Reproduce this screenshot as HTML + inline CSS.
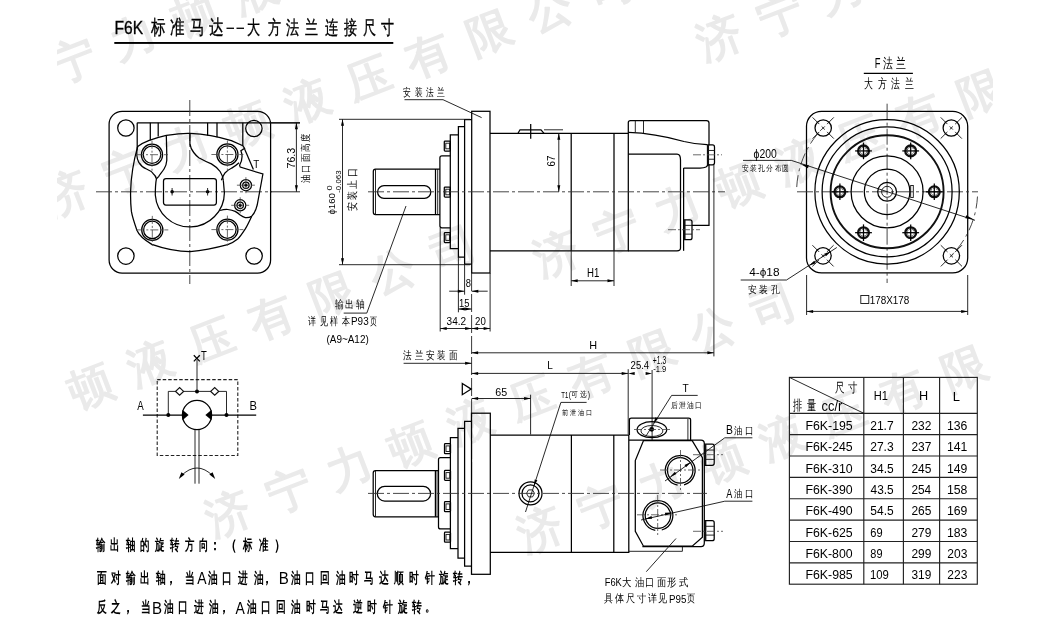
<!DOCTYPE html>
<html><head><meta charset="utf-8"><style>
html,body{margin:0;padding:0;background:#fff;}
svg{display:block;will-change:transform;}
text{font-family:"Liberation Sans",sans-serif;fill:#000;}
.wm{fill:#eaeaea;stroke:#eaeaea;stroke-width:1.5;stroke-linejoin:round;font-weight:normal;}
.bt{font-weight:bold;}
.bl{font-weight:normal;}
.ti{stroke:#000;stroke-width:0.35;}
.m{fill:none;stroke:#000;stroke-width:1.25;}
.k{fill:none;stroke:#111;stroke-width:1.9;}
.k2{fill:none;stroke:#111;stroke-width:2.3;}
.g{fill:none;stroke:#555;stroke-width:1;stroke-dasharray:2 1;}
.t{fill:none;stroke:#111;stroke-width:0.9;}
.tt{fill:none;stroke:#111;stroke-width:1.4;}
.tb{fill:none;stroke:#222;stroke-width:1.15;}
.c{fill:none;stroke:#333;stroke-width:0.9;stroke-dasharray:16 3 3 3;}
.c2{fill:none;stroke:#444;stroke-width:0.8;stroke-dasharray:8 2 2 2;}
.dl{fill:none;stroke:#222;stroke-width:0.9;stroke-dasharray:18 3;}
.da{fill:none;stroke:#333;stroke-width:0.9;stroke-dasharray:12 4 3 4;}
.ds{fill:none;stroke:#222;stroke-width:1.1;stroke-dasharray:3.5 2;}
.f{fill:#000;stroke:none;}
.wf{fill:#fff;stroke:#111;stroke-width:1.2;}
</style></head>
<body><svg width="1051" height="637" viewBox="0 0 1051 637">
<rect width="1051" height="637" fill="#fff"/>
<clipPath id="wmc"><rect x="57" y="0" width="936" height="637"/></clipPath><g clip-path="url(#wmc)">
<text transform="translate(12.0,83.0) rotate(-21)" x="-22.1" y="15.7" font-size="45" class="wm">济</text>
<text transform="translate(72.5,60.0) rotate(-21)" x="-22.1" y="15.7" font-size="45" class="wm">宁</text>
<text transform="translate(133.0,37.0) rotate(-21)" x="-22.1" y="15.7" font-size="45" class="wm">力</text>
<text transform="translate(193.5,14.0) rotate(-21)" x="-22.1" y="15.7" font-size="45" class="wm">顿</text>
<text transform="translate(254.0,-9.0) rotate(-21)" x="-22.1" y="15.7" font-size="45" class="wm">液</text>
<text transform="translate(719.0,37.0) rotate(-21)" x="-22.1" y="15.7" font-size="45" class="wm">济</text>
<text transform="translate(779.5,14.0) rotate(-21)" x="-22.1" y="15.7" font-size="45" class="wm">宁</text>
<text transform="translate(840.0,-9.0) rotate(-21)" x="-22.1" y="15.7" font-size="45" class="wm">力</text>
<text transform="translate(65.0,193.0) rotate(-21)" x="-22.1" y="15.7" font-size="45" class="wm">济</text>
<text transform="translate(125.5,170.0) rotate(-21)" x="-22.1" y="15.7" font-size="45" class="wm">宁</text>
<text transform="translate(186.0,147.0) rotate(-21)" x="-22.1" y="15.7" font-size="45" class="wm">力</text>
<text transform="translate(246.5,124.0) rotate(-21)" x="-22.1" y="15.7" font-size="45" class="wm">顿</text>
<text transform="translate(307.0,101.0) rotate(-21)" x="-22.1" y="15.7" font-size="45" class="wm">液</text>
<text transform="translate(367.5,78.0) rotate(-21)" x="-22.1" y="15.7" font-size="45" class="wm">压</text>
<text transform="translate(428.0,55.0) rotate(-21)" x="-22.1" y="15.7" font-size="45" class="wm">有</text>
<text transform="translate(488.5,32.0) rotate(-21)" x="-22.1" y="15.7" font-size="45" class="wm">限</text>
<text transform="translate(549.0,9.0) rotate(-21)" x="-22.1" y="15.7" font-size="45" class="wm">公</text>
<text transform="translate(609.5,-14.0) rotate(-21)" x="-22.1" y="15.7" font-size="45" class="wm">司</text>
<text transform="translate(-92.0,455.0) rotate(-21)" x="-22.1" y="15.7" font-size="45" class="wm">济</text>
<text transform="translate(-31.5,432.0) rotate(-21)" x="-22.1" y="15.7" font-size="45" class="wm">宁</text>
<text transform="translate(29.0,409.0) rotate(-21)" x="-22.1" y="15.7" font-size="45" class="wm">力</text>
<text transform="translate(89.5,386.0) rotate(-21)" x="-22.1" y="15.7" font-size="45" class="wm">顿</text>
<text transform="translate(150.0,363.0) rotate(-21)" x="-22.1" y="15.7" font-size="45" class="wm">液</text>
<text transform="translate(210.5,340.0) rotate(-21)" x="-22.1" y="15.7" font-size="45" class="wm">压</text>
<text transform="translate(271.0,317.0) rotate(-21)" x="-22.1" y="15.7" font-size="45" class="wm">有</text>
<text transform="translate(331.5,294.0) rotate(-21)" x="-22.1" y="15.7" font-size="45" class="wm">限</text>
<text transform="translate(392.0,271.0) rotate(-21)" x="-22.1" y="15.7" font-size="45" class="wm">公</text>
<text transform="translate(452.5,248.0) rotate(-21)" x="-22.1" y="15.7" font-size="45" class="wm">司</text>
<text transform="translate(556.0,253.0) rotate(-21)" x="-22.1" y="15.7" font-size="45" class="wm">济</text>
<text transform="translate(616.5,230.0) rotate(-21)" x="-22.1" y="15.7" font-size="45" class="wm">宁</text>
<text transform="translate(677.0,207.0) rotate(-21)" x="-22.1" y="15.7" font-size="45" class="wm">力</text>
<text transform="translate(737.5,184.0) rotate(-21)" x="-22.1" y="15.7" font-size="45" class="wm">顿</text>
<text transform="translate(798.0,161.0) rotate(-21)" x="-22.1" y="15.7" font-size="45" class="wm">液</text>
<text transform="translate(858.5,138.0) rotate(-21)" x="-22.1" y="15.7" font-size="45" class="wm">压</text>
<text transform="translate(919.0,115.0) rotate(-21)" x="-22.1" y="15.7" font-size="45" class="wm">有</text>
<text transform="translate(979.5,92.0) rotate(-21)" x="-22.1" y="15.7" font-size="45" class="wm">限</text>
<text transform="translate(228.0,513.0) rotate(-21)" x="-22.1" y="15.7" font-size="45" class="wm">济</text>
<text transform="translate(288.5,490.0) rotate(-21)" x="-22.1" y="15.7" font-size="45" class="wm">宁</text>
<text transform="translate(349.0,467.0) rotate(-21)" x="-22.1" y="15.7" font-size="45" class="wm">力</text>
<text transform="translate(409.5,444.0) rotate(-21)" x="-22.1" y="15.7" font-size="45" class="wm">顿</text>
<text transform="translate(470.0,421.0) rotate(-21)" x="-22.1" y="15.7" font-size="45" class="wm">液</text>
<text transform="translate(530.5,398.0) rotate(-21)" x="-22.1" y="15.7" font-size="45" class="wm">压</text>
<text transform="translate(591.0,375.0) rotate(-21)" x="-22.1" y="15.7" font-size="45" class="wm">有</text>
<text transform="translate(651.5,352.0) rotate(-21)" x="-22.1" y="15.7" font-size="45" class="wm">限</text>
<text transform="translate(712.0,329.0) rotate(-21)" x="-22.1" y="15.7" font-size="45" class="wm">公</text>
<text transform="translate(772.5,306.0) rotate(-21)" x="-22.1" y="15.7" font-size="45" class="wm">司</text>
<text transform="translate(540.0,529.0) rotate(-21)" x="-22.1" y="15.7" font-size="45" class="wm">济</text>
<text transform="translate(600.5,506.0) rotate(-21)" x="-22.1" y="15.7" font-size="45" class="wm">宁</text>
<text transform="translate(661.0,483.0) rotate(-21)" x="-22.1" y="15.7" font-size="45" class="wm">力</text>
<text transform="translate(721.5,460.0) rotate(-21)" x="-22.1" y="15.7" font-size="45" class="wm">顿</text>
<text transform="translate(782.0,437.0) rotate(-21)" x="-22.1" y="15.7" font-size="45" class="wm">液</text>
<text transform="translate(842.5,414.0) rotate(-21)" x="-22.1" y="15.7" font-size="45" class="wm">压</text>
<text transform="translate(903.0,391.0) rotate(-21)" x="-22.1" y="15.7" font-size="45" class="wm">有</text>
<text transform="translate(963.5,368.0) rotate(-21)" x="-22.1" y="15.7" font-size="45" class="wm">限</text>
<text transform="translate(1024.0,345.0) rotate(-21)" x="-22.1" y="15.7" font-size="45" class="wm">公</text>
</g>
<text transform="translate(114.45,33.50) scale(0.816,1)" font-size="19.13" class="ti">F6K</text>
<text transform="translate(150.70,34.03) scale(0.726,1)" font-size="19.79" class="ti">标</text>
<text transform="translate(170.03,34.03) scale(0.726,1)" font-size="19.79" class="ti">准</text>
<text transform="translate(190.03,34.03) scale(0.726,1)" font-size="19.79" class="ti">马</text>
<text transform="translate(208.91,34.03) scale(0.726,1)" font-size="19.79" class="ti">达</text>
<line x1="226.50" y1="28.30" x2="234.00" y2="28.30" class="tt"/>
<line x1="236.50" y1="28.30" x2="244.00" y2="28.30" class="tt"/>
<text transform="translate(247.07,34.28) scale(0.687,1)" font-size="19.36" class="ti">大</text>
<text transform="translate(267.80,34.28) scale(0.687,1)" font-size="19.36" class="ti">方</text>
<text transform="translate(286.13,34.28) scale(0.687,1)" font-size="19.36" class="ti">法</text>
<text transform="translate(305.23,34.28) scale(0.687,1)" font-size="19.36" class="ti">兰</text>
<text transform="translate(324.80,34.28) scale(0.687,1)" font-size="19.36" class="ti">连</text>
<text transform="translate(344.17,34.28) scale(0.687,1)" font-size="19.36" class="ti">接</text>
<text transform="translate(362.77,34.28) scale(0.687,1)" font-size="19.36" class="ti">尺</text>
<text transform="translate(381.33,34.28) scale(0.687,1)" font-size="19.36" class="ti">寸</text>
<rect x="114.30" y="42.00" width="279.00" height="1.90" rx="0" class="f"/>
<rect x="109.10" y="111.30" width="161.50" height="161.80" rx="13" class="m"/>
<circle cx="125.90" cy="128.00" r="8.20" class="m"/>
<circle cx="253.90" cy="128.50" r="8.20" class="m"/>
<circle cx="125.90" cy="256.10" r="8.20" class="m"/>
<circle cx="254.10" cy="256.00" r="8.20" class="m"/>
<line x1="189.80" y1="100.00" x2="189.80" y2="284.00" class="c"/>
<line x1="96.00" y1="191.80" x2="272.00" y2="191.80" class="c"/>
<line x1="270.00" y1="191.80" x2="300.00" y2="191.80" class="t"/>
<line x1="137.20" y1="122.80" x2="300.00" y2="122.80" class="m"/>
<line x1="137.20" y1="122.80" x2="137.20" y2="148.60" class="m"/>
<line x1="150.30" y1="122.80" x2="150.30" y2="140.30" class="m"/>
<line x1="158.20" y1="122.80" x2="158.20" y2="136.50" class="m"/>
<line x1="207.60" y1="122.80" x2="207.60" y2="135.60" class="m"/>
<line x1="217.00" y1="122.80" x2="217.00" y2="137.20" class="m"/>
<line x1="242.80" y1="122.80" x2="242.80" y2="145.70" class="m"/>
<path d="M137.7,146.4 C145,141 155,138 166.3,135.4 C175,134 182,133 190,133.3 C205,133.8 220,137 231.4,140.7 L242.8,145.7 L244.6,148.4 L240.9,150.7 C243,156 242,161 239.6,165.2 L240.2,167.1 L262.9,174 L257.2,205 C256,210 254,214 251.6,216.4 C249,222 247,226 245.3,228.9 C242,234 240,237 237.7,239 C234,242 231,243.5 227.7,244.6 C215,248 202,250.5 190,251.6 C176,251.6 162,248 151.8,244.4 C143,239 138,233 136.9,230.2 C134,222 131.5,212 131.4,211.4 C130.5,203 130.5,197 130.6,191.8 C131,176 133,163 137.7,146.4 Z" class="m"/>
<line x1="244.60" y1="148.90" x2="253.40" y2="169.60" class="m"/>
<path d="M137.7,146.4 C136,153 136.5,158 138.8,162.4 C141,166 144,168 146.5,169 C150,170.5 152,172 153,173.4 C155,175 156,177 156.4,178.8 C155.6,183 155.3,188 155.3,195" class="m"/>
<path d="M166.3,135.4 C166.6,145 166.8,152 166.8,160.2 C166.5,164 165.5,167 164,169 C162,172 160,174.5 158.6,176.6 L156.4,178.8" class="m"/>
<path d="M190,133.3 C190,138 189.9,141 189.9,143.7 C190.5,148 192,150.5 193.7,152.5 C196,155.5 197.5,156.8 198.8,157.7 C203,160 207,162 211.4,163.9 C215,166 218,168.5 220.1,171.5 C222,174.5 223,177 223.3,180.3" class="m"/>
<path d="M239,162.7 C236,165.5 233.5,167 231.4,168.3 C229,169.5 227,171 225.2,172.7 C223.5,175 222.3,177.5 221.4,180.3" class="m"/>
<path d="M155.3,195 A34.6,34.6 0 0 0 224.4,192.7 L223.3,180.3" class="m"/>
<path d="M220.1,210.5 C223,209.6 225.5,209.4 227.7,209.5 C230.5,209.8 233,210.4 235.2,211.4 C237,212.5 238.8,213.8 240.2,215.1 C242,216.4 243.5,217.2 245.3,217.6 C247.5,217.8 249.8,217.4 251.6,216.4" class="m"/>
<circle cx="152.00" cy="154.70" r="10.60" class="m"/>
<circle cx="152.00" cy="154.70" r="8.70" class="m"/>
<line x1="136.00" y1="154.70" x2="168.00" y2="154.70" class="c2"/>
<line x1="152.00" y1="140.70" x2="152.00" y2="170.70" class="c2"/>
<circle cx="227.40" cy="154.50" r="10.60" class="m"/>
<circle cx="227.40" cy="154.50" r="8.70" class="m"/>
<line x1="211.40" y1="154.50" x2="243.40" y2="154.50" class="c2"/>
<line x1="227.40" y1="140.50" x2="227.40" y2="170.50" class="c2"/>
<circle cx="152.30" cy="229.90" r="10.60" class="m"/>
<circle cx="152.30" cy="229.90" r="8.70" class="m"/>
<line x1="136.30" y1="229.90" x2="168.30" y2="229.90" class="c2"/>
<line x1="152.30" y1="215.90" x2="152.30" y2="245.90" class="c2"/>
<circle cx="227.40" cy="229.60" r="10.60" class="m"/>
<circle cx="227.40" cy="229.60" r="8.70" class="m"/>
<line x1="211.40" y1="229.60" x2="243.40" y2="229.60" class="c2"/>
<line x1="227.40" y1="215.60" x2="227.40" y2="245.60" class="c2"/>
<rect x="163.50" y="178.60" width="52.90" height="26.50" rx="2.5" class="m"/>
<circle cx="172.10" cy="191.80" r="1.80" class="f"/>
<line x1="172.10" y1="188.00" x2="172.10" y2="195.50" class="t"/>
<circle cx="207.60" cy="191.80" r="1.80" class="f"/>
<line x1="207.60" y1="188.00" x2="207.60" y2="195.50" class="t"/>
<circle cx="245.90" cy="185.20" r="5.60" class="m"/>
<circle cx="245.90" cy="185.20" r="3.20" class="m"/>
<circle cx="245.90" cy="185.20" r="1.60" class="f"/>
<line x1="236.90" y1="185.20" x2="254.90" y2="185.20" class="c2"/>
<line x1="245.90" y1="177.20" x2="245.90" y2="193.20" class="c2"/>
<circle cx="240.20" cy="205.30" r="5.60" class="m"/>
<circle cx="240.20" cy="205.30" r="3.20" class="m"/>
<circle cx="240.20" cy="205.30" r="1.60" class="f"/>
<line x1="231.20" y1="205.30" x2="249.20" y2="205.30" class="c2"/>
<line x1="240.20" y1="197.30" x2="240.20" y2="213.30" class="c2"/>
<text transform="translate(253.20,168.30) scale(0.904,1)" font-size="10.87">T</text>
<line x1="270.00" y1="122.80" x2="300.00" y2="122.80" class="t"/>
<line x1="296.40" y1="122.80" x2="296.40" y2="191.80" class="t"/>
<path d="M296.40,122.80 L297.90,129.30 L294.90,129.30 Z" class="f"/>
<path d="M296.40,191.80 L294.90,185.30 L297.90,185.30 Z" class="f"/>
<text transform="translate(295.10,168.54) rotate(-90) scale(0.972,1)" font-size="11.01">76.3</text>
<text transform="translate(308.90,183.10) rotate(-90) scale(0.851,1)" font-size="10.00">油</text>
<text transform="translate(308.90,172.66) rotate(-90) scale(0.851,1)" font-size="10.00">口</text>
<text transform="translate(308.90,162.47) rotate(-90) scale(0.851,1)" font-size="10.00">面</text>
<text transform="translate(308.90,152.11) rotate(-90) scale(0.851,1)" font-size="10.00">高</text>
<text transform="translate(308.90,141.67) rotate(-90) scale(0.851,1)" font-size="10.00">度</text>
<rect x="471.70" y="111.30" width="18.30" height="161.70" rx="0" class="m"/>
<path d="M471.7,119.5 L464.6,119.5 L464.6,264.1 L471.7,264.1" class="m"/>
<path d="M464.6,126.5 L458.4,126.5 L458.4,257.1 L464.6,257.1" class="m"/>
<path d="M458.4,134.9 L450.3,134.9 L450.3,248.7 L458.4,248.7" class="m"/>
<path d="M450.3,155.8 L441.9,155.8 Q439.9,155.8 439.9,157.8 L439.9,225.8 Q439.9,227.8 441.9,227.8 L450.3,227.8" class="m"/>
<path d="M439.9,169 L375.5,169 Q373.3,169 373.3,171.5 L373.3,212 Q373.3,214.6 375.5,214.6 L439.9,214.6" class="m"/>
<line x1="435.50" y1="169.00" x2="435.50" y2="214.60" class="m"/>
<line x1="437.70" y1="169.00" x2="437.70" y2="214.60" class="t"/>
<line x1="375.50" y1="169.00" x2="375.50" y2="214.60" class="t"/>
<rect x="377.60" y="185.60" width="53.20" height="12.80" rx="6.4" class="m"/>
<rect x="444.30" y="141.00" width="6.00" height="10.00" rx="0.8" class="m"/>
<rect x="445.80" y="143.20" width="3.80" height="5.60" rx="0" class="t"/>
<rect x="444.30" y="187.00" width="6.00" height="10.00" rx="0.8" class="m"/>
<rect x="445.80" y="189.20" width="3.80" height="5.60" rx="0" class="t"/>
<rect x="444.30" y="232.60" width="6.00" height="10.00" rx="0.8" class="m"/>
<rect x="445.80" y="234.80" width="3.80" height="5.60" rx="0" class="t"/>
<path d="M490,133.3 L628.3,133.3 L628.3,250.8 L490,250.8" class="m"/>
<line x1="571.20" y1="133.30" x2="571.20" y2="250.80" class="m"/>
<line x1="614.00" y1="133.30" x2="614.00" y2="250.80" class="m"/>
<path d="M628.3,154.2 L677,154.2 Q680.5,154.2 680.5,160 L680.5,248 Q680.5,250.8 677,250.8 L628.3,250.8" class="m"/>
<line x1="683.60" y1="168.00" x2="683.60" y2="250.80" class="m"/>
<path d="M628.3,133.3 L628.3,122.5 Q628.3,120.6 630.5,120.6 L706.5,120.6 Q709,120.6 709,123 L709,145.3" class="m"/>
<path d="M628.3,132.4 C650,133 668,137 684,141.5 C694,144 701,144.5 707,144.5" class="m"/>
<line x1="635.30" y1="120.60" x2="635.30" y2="132.50" class="t"/>
<line x1="643.50" y1="120.60" x2="643.50" y2="133.50" class="t"/>
<path d="M709,164.2 L706,167 C704,168 702,168 700,168 L683.6,168" class="m"/>
<path d="M707.50,144.90 L712.50,144.90 Q714.50,144.90 714.50,146.90 L714.50,162.80 Q714.50,164.80 712.50,164.80 L707.50,164.80 Z" class="m"/>
<line x1="708.10" y1="144.90" x2="708.10" y2="164.80" class="k"/>
<line x1="707.50" y1="150.47" x2="714.50" y2="150.47" class="t"/>
<line x1="707.50" y1="159.23" x2="714.50" y2="159.23" class="t"/>
<path d="M709,164.2 L709,225.4 L691.8,225.4" class="m"/>
<path d="M684.00,219.80 L690.00,219.80 Q692.00,219.80 692.00,221.80 L692.00,237.70 Q692.00,239.70 690.00,239.70 L684.00,239.70 Z" class="m"/>
<line x1="684.60" y1="219.80" x2="684.60" y2="239.70" class="k"/>
<line x1="684.00" y1="225.37" x2="692.00" y2="225.37" class="t"/>
<line x1="684.00" y1="234.13" x2="692.00" y2="234.13" class="t"/>
<line x1="693.00" y1="154.80" x2="722.00" y2="154.80" class="c2"/>
<line x1="668.00" y1="229.70" x2="700.00" y2="229.70" class="c2"/>
<path d="M518,133.3 L520,129.8 L541,129.8 L544,133.3" class="m"/>
<line x1="530.70" y1="124.00" x2="530.70" y2="138.80" class="m"/>
<line x1="544.00" y1="129.80" x2="563.00" y2="129.80" class="t"/>
<line x1="368.00" y1="191.80" x2="725.00" y2="191.80" class="c"/>
<line x1="558.80" y1="133.30" x2="558.80" y2="191.80" class="t"/>
<path d="M558.80,133.30 L560.30,139.80 L557.30,139.80 Z" class="f"/>
<path d="M558.80,191.80 L557.30,185.30 L560.30,185.30 Z" class="f"/>
<text transform="translate(554.60,166.39) rotate(-90) scale(0.840,1)" font-size="11.59">67</text>
<line x1="571.20" y1="250.80" x2="571.20" y2="286.00" class="t"/>
<line x1="614.00" y1="250.80" x2="614.00" y2="286.00" class="t"/>
<line x1="571.20" y1="280.80" x2="614.00" y2="280.80" class="t"/>
<path d="M571.20,280.80 L577.70,279.30 L577.70,282.30 Z" class="f"/>
<path d="M614.00,280.80 L607.50,282.30 L607.50,279.30 Z" class="f"/>
<text transform="translate(587.03,276.60) scale(0.801,1)" font-size="12.03">H1</text>
<line x1="339.00" y1="119.30" x2="470.00" y2="119.30" class="t"/>
<line x1="339.00" y1="264.70" x2="470.00" y2="264.70" class="t"/>
<line x1="342.50" y1="119.30" x2="342.50" y2="264.70" class="t"/>
<path d="M342.50,119.30 L344.00,125.80 L341.00,125.80 Z" class="f"/>
<path d="M342.50,264.70 L341.00,258.20 L344.00,258.20 Z" class="f"/>
<text transform="translate(334.60,214.59) rotate(-90) scale(1.010,1)" font-size="9.57">ϕ160</text>
<text transform="translate(331.50,190.38) rotate(-90) scale(1.294,1)" font-size="7.25">0</text>
<text transform="translate(341.20,192.82) rotate(-90) scale(1.159,1)" font-size="6.81">-0.063</text>
<text transform="translate(355.89,211.48) rotate(-90) scale(0.825,1)" font-size="10.96">安</text>
<text transform="translate(355.89,200.13) rotate(-90) scale(0.825,1)" font-size="10.96">装</text>
<text transform="translate(355.89,188.83) rotate(-90) scale(0.825,1)" font-size="10.96">止</text>
<text transform="translate(355.89,177.30) rotate(-90) scale(0.825,1)" font-size="10.96">口</text>
<text transform="translate(403.29,95.77) scale(0.702,1)" font-size="11.06">安</text>
<text transform="translate(414.77,95.77) scale(0.702,1)" font-size="11.06">装</text>
<text transform="translate(425.74,95.77) scale(0.702,1)" font-size="11.06">法</text>
<text transform="translate(436.74,95.77) scale(0.702,1)" font-size="11.06">兰</text>
<line x1="404.50" y1="99.70" x2="443.00" y2="99.70" class="t"/>
<line x1="443.00" y1="99.70" x2="481.60" y2="117.60" class="t"/>
<line x1="366.80" y1="313.10" x2="406.00" y2="206.00" class="t"/>
<line x1="343.70" y1="313.10" x2="366.80" y2="313.10" class="t"/>
<text transform="translate(335.01,308.39) scale(0.796,1)" font-size="10.96">输</text>
<text transform="translate(345.28,308.39) scale(0.796,1)" font-size="10.96">出</text>
<text transform="translate(356.41,308.39) scale(0.796,1)" font-size="10.96">轴</text>
<text transform="translate(308.12,325.29) scale(0.728,1)" font-size="10.96">详</text>
<text transform="translate(319.60,325.29) scale(0.728,1)" font-size="10.96">见</text>
<text transform="translate(329.92,325.29) scale(0.728,1)" font-size="10.96">样</text>
<text transform="translate(341.72,325.29) scale(0.728,1)" font-size="10.96">本</text>
<text transform="translate(351.01,325.20) scale(0.964,1)" font-size="10.29">P93</text>
<text transform="translate(369.86,325.29) scale(0.631,1)" font-size="10.96">页</text>
<text transform="translate(326.50,342.60) scale(0.858,1)" font-size="11.59">(A9~A12)</text>
<line x1="440.20" y1="227.80" x2="440.20" y2="331.50" class="t"/>
<line x1="458.40" y1="257.10" x2="458.40" y2="312.30" class="t"/>
<line x1="464.60" y1="264.10" x2="464.60" y2="294.70" class="t"/>
<line x1="471.60" y1="273.00" x2="471.60" y2="480.00" class="dl"/>
<line x1="490.10" y1="273.00" x2="490.10" y2="331.50" class="t"/>
<line x1="449.20" y1="291.20" x2="464.60" y2="291.20" class="t"/>
<path d="M464.30,291.20 L457.80,292.70 L457.80,289.70 Z" class="f"/>
<line x1="471.60" y1="291.20" x2="487.70" y2="291.20" class="t"/>
<path d="M471.80,291.20 L478.30,289.70 L478.30,292.70 Z" class="f"/>
<text transform="translate(465.63,286.50) scale(0.897,1)" font-size="10.43">8</text>
<line x1="458.40" y1="309.00" x2="471.60" y2="309.00" class="t"/>
<path d="M458.40,309.00 L464.90,307.50 L464.90,310.50 Z" class="f"/>
<path d="M471.60,309.00 L465.10,310.50 L465.10,307.50 Z" class="f"/>
<text transform="translate(458.95,306.80) scale(0.845,1)" font-size="11.16">15</text>
<line x1="440.20" y1="328.50" x2="471.60" y2="328.50" class="t"/>
<path d="M440.20,328.50 L446.70,327.00 L446.70,330.00 Z" class="f"/>
<path d="M471.60,328.50 L465.10,330.00 L465.10,327.00 Z" class="f"/>
<text transform="translate(446.60,324.90) scale(0.913,1)" font-size="11.01">34.2</text>
<line x1="471.60" y1="328.50" x2="490.10" y2="328.50" class="t"/>
<path d="M471.60,328.50 L478.10,327.00 L478.10,330.00 Z" class="f"/>
<path d="M490.10,328.50 L483.60,330.00 L483.60,327.00 Z" class="f"/>
<text transform="translate(475.12,324.90) scale(0.876,1)" font-size="11.01">20</text>
<line x1="713.90" y1="165.00" x2="713.90" y2="356.40" class="t"/>
<line x1="471.60" y1="352.80" x2="713.90" y2="352.80" class="t"/>
<path d="M471.60,352.80 L478.10,351.30 L478.10,354.30 Z" class="f"/>
<path d="M713.90,352.80 L707.40,354.30 L707.40,351.30 Z" class="f"/>
<text transform="translate(589.13,349.00) scale(0.989,1)" font-size="11.01">H</text>
<text transform="translate(403.43,358.90) scale(0.784,1)" font-size="10.85">法</text>
<text transform="translate(414.73,358.90) scale(0.784,1)" font-size="10.85">兰</text>
<text transform="translate(425.86,358.90) scale(0.784,1)" font-size="10.85">安</text>
<text transform="translate(437.24,358.90) scale(0.784,1)" font-size="10.85">装</text>
<text transform="translate(448.63,358.90) scale(0.784,1)" font-size="10.85">面</text>
<line x1="403.60" y1="363.30" x2="471.60" y2="363.30" class="t"/>
<path d="M471.60,363.30 L465.10,364.80 L465.10,361.80 Z" class="f"/>
<line x1="471.60" y1="373.40" x2="628.20" y2="373.40" class="t"/>
<path d="M471.60,373.40 L478.10,371.90 L478.10,374.90 Z" class="f"/>
<path d="M628.20,373.40 L621.70,374.90 L621.70,371.90 Z" class="f"/>
<text transform="translate(547.30,369.40) scale(0.873,1)" font-size="11.45">L</text>
<line x1="628.20" y1="369.20" x2="628.20" y2="434.50" class="t"/>
<line x1="652.10" y1="370.00" x2="652.10" y2="440.00" class="t"/>
<path d="M652.10,373.40 L645.60,374.90 L645.60,371.90 Z" class="f"/>
<path d="M628.20,373.40 L634.70,371.90 L634.70,374.90 Z" class="f"/>
<text transform="translate(630.62,369.20) scale(0.811,1)" font-size="11.74">25.4</text>
<text transform="translate(652.86,364.00) scale(0.676,1)" font-size="10.00">+1.3</text>
<text transform="translate(653.20,372.10) scale(0.917,1)" font-size="8.26">-1.9</text>
<path d="M462.3,383.5 L471.2,389.1 L462.3,394.7 Z" class="m"/>
<line x1="530.60" y1="394.70" x2="530.60" y2="434.50" class="t"/>
<line x1="471.60" y1="398.50" x2="530.60" y2="398.50" class="t"/>
<path d="M471.60,398.50 L478.10,397.00 L478.10,400.00 Z" class="f"/>
<path d="M530.60,398.50 L524.10,400.00 L524.10,397.00 Z" class="f"/>
<text transform="translate(495.36,396.20) scale(0.974,1)" font-size="11.01">65</text>
<rect x="471.50" y="413.20" width="18.80" height="161.10" rx="0" class="m"/>
<path d="M471.5,421.3 L464.6,421.3 L464.6,566 L471.5,566" class="m"/>
<path d="M464.6,428.3 L458,428.3 L458,558.1 L464.6,558.1" class="m"/>
<path d="M458,437.7 L450.4,437.7 L450.4,548.7 L458,548.7" class="m"/>
<path d="M450.4,457.5 L440.5,457.5 Q438.5,457.5 438.5,459.5 L438.5,526.9 Q438.5,528.9 440.5,528.9 L450.4,528.9" class="m"/>
<path d="M438.5,470.6 L375.5,470.6 Q373.2,470.6 373.2,473 L373.2,514.3 Q373.2,516.8 375.5,516.8 L438.5,516.8" class="m"/>
<line x1="435.40" y1="470.60" x2="435.40" y2="516.80" class="m"/>
<line x1="437.00" y1="470.60" x2="437.00" y2="516.80" class="t"/>
<line x1="375.50" y1="470.60" x2="375.50" y2="516.80" class="t"/>
<rect x="377.30" y="486.30" width="53.30" height="14.80" rx="7.4" class="m"/>
<rect x="444.50" y="443.70" width="6.00" height="10.00" rx="0.8" class="m"/>
<rect x="446.00" y="445.90" width="3.80" height="5.60" rx="0" class="t"/>
<rect x="444.50" y="470.40" width="6.00" height="10.00" rx="0.8" class="m"/>
<rect x="446.00" y="472.60" width="3.80" height="5.60" rx="0" class="t"/>
<rect x="444.50" y="501.70" width="6.00" height="10.00" rx="0.8" class="m"/>
<rect x="446.00" y="503.90" width="3.80" height="5.60" rx="0" class="t"/>
<rect x="444.50" y="532.20" width="6.00" height="10.00" rx="0.8" class="m"/>
<rect x="446.00" y="534.40" width="3.80" height="5.60" rx="0" class="t"/>
<path d="M490.3,435 L628.8,435 L628.8,552.3 L490.3,552.3" class="m"/>
<line x1="571.40" y1="435.00" x2="571.40" y2="552.30" class="m"/>
<line x1="613.80" y1="435.00" x2="613.80" y2="552.30" class="m"/>
<circle cx="530.50" cy="493.40" r="11.50" class="m"/>
<circle cx="530.50" cy="493.40" r="8.50" class="m"/>
<path d="M526.5,493.4 L528.5,489.9 L532.5,489.9 L534.5,493.4 L532.5,496.9 L528.5,496.9 Z" class="t"/>
<path d="M629.4,435 L629.4,420 Q629.4,418.2 631.4,418.2 L688.6,418.2 Q690.6,418.2 690.6,420 L690.6,440.1" class="m"/>
<ellipse cx="651.9" cy="429.7" rx="14.8" ry="8" class="m"/>
<ellipse cx="651.9" cy="431" rx="11" ry="5.5" class="t"/>
<circle cx="651.70" cy="429.30" r="2.40" class="f"/>
<line x1="634.00" y1="429.50" x2="672.00" y2="429.50" class="c2"/>
<line x1="687.90" y1="419.00" x2="687.90" y2="440.00" class="t"/>
<path d="M629,440.1 L701,440.1 Q704.3,440.1 704.3,443.5 L704.3,543 Q704.3,546.6 701,546.6 L642.4,546.6" class="m"/>
<path d="M643.5,440.6 L692.2,440.6 L702.4,457.7 L702.4,537.1 L692.2,546.2 L643.5,546.2 L635.3,531.3 L635.3,460.6 Z" class="m"/>
<path d="M629,551.3 L682.4,551.3 L682.4,547" class="t"/>
<circle cx="680.20" cy="470.40" r="12.70" class="m"/>
<path d="M677.61,485.07 A14.9,14.9 0 1 1 684.06,484.79" class="m"/>
<circle cx="657.90" cy="515.60" r="12.70" class="m"/>
<path d="M655.31,530.27 A14.9,14.9 0 1 1 661.76,529.99" class="m"/>
<line x1="660.00" y1="470.00" x2="700.00" y2="470.00" class="c2"/>
<line x1="680.50" y1="450.00" x2="680.50" y2="490.00" class="c2"/>
<line x1="637.00" y1="514.80" x2="678.00" y2="514.80" class="c2"/>
<line x1="657.70" y1="495.00" x2="657.70" y2="535.00" class="c2"/>
<path d="M704.80,444.10 L712.20,444.10 Q714.20,444.10 714.20,446.10 L714.20,463.30 Q714.20,465.30 712.20,465.30 L704.80,465.30 Z" class="m"/>
<line x1="705.40" y1="444.10" x2="705.40" y2="465.30" class="k"/>
<line x1="704.80" y1="450.04" x2="714.20" y2="450.04" class="t"/>
<line x1="704.80" y1="459.36" x2="714.20" y2="459.36" class="t"/>
<path d="M704.80,520.70 L712.20,520.70 Q714.20,520.70 714.20,522.70 L714.20,538.70 Q714.20,540.70 712.20,540.70 L704.80,540.70 Z" class="m"/>
<line x1="705.40" y1="520.70" x2="705.40" y2="540.70" class="k"/>
<line x1="704.80" y1="526.30" x2="714.20" y2="526.30" class="t"/>
<line x1="704.80" y1="535.10" x2="714.20" y2="535.10" class="t"/>
<line x1="693.00" y1="454.70" x2="723.00" y2="454.70" class="c2"/>
<line x1="693.00" y1="531.30" x2="723.00" y2="531.30" class="c2"/>
<line x1="368.00" y1="493.40" x2="707.00" y2="493.40" class="c"/>
<text transform="translate(561.28,397.60) scale(0.617,1)" font-size="9.71">T1</text>
<text transform="translate(568.79,397.60) scale(0.800,1)" font-size="8.50">(</text>
<text transform="translate(571.36,397.22) scale(0.857,1)" font-size="8.19">可</text>
<text transform="translate(579.86,397.22) scale(0.857,1)" font-size="8.19">选</text>
<text transform="translate(587.73,397.60) scale(0.800,1)" font-size="8.50">)</text>
<line x1="560.90" y1="402.40" x2="586.60" y2="402.40" class="t"/>
<line x1="560.90" y1="402.40" x2="525.50" y2="512.00" class="t"/>
<path d="M533.80,486.50 L534.71,479.42 L537.36,480.31 Z" class="f"/>
<text transform="translate(561.78,414.67) scale(0.892,1)" font-size="6.91">前</text>
<text transform="translate(570.08,414.67) scale(0.892,1)" font-size="6.91">泄</text>
<text transform="translate(578.28,414.67) scale(0.892,1)" font-size="6.91">油</text>
<text transform="translate(585.58,414.67) scale(0.892,1)" font-size="6.91">口</text>
<text transform="translate(682.50,392.40) scale(0.949,1)" font-size="10.72">T</text>
<line x1="671.60" y1="395.40" x2="697.70" y2="395.40" class="t"/>
<line x1="671.60" y1="395.40" x2="646.00" y2="436.00" class="t"/>
<path d="M653.00,424.00 L655.61,417.35 L657.96,418.87 Z" class="f"/>
<text transform="translate(671.11,407.59) scale(0.845,1)" font-size="7.55">后</text>
<text transform="translate(679.17,407.59) scale(0.845,1)" font-size="7.55">泄</text>
<text transform="translate(687.17,407.59) scale(0.845,1)" font-size="7.55">油</text>
<text transform="translate(694.66,407.59) scale(0.845,1)" font-size="7.55">口</text>
<text transform="translate(725.97,434.40) scale(0.873,1)" font-size="11.88">B</text>
<text transform="translate(733.62,434.06) scale(0.856,1)" font-size="10.32">油</text>
<text transform="translate(744.82,434.06) scale(0.856,1)" font-size="10.32">口</text>
<line x1="724.80" y1="437.80" x2="752.40" y2="437.80" class="t"/>
<line x1="724.80" y1="437.80" x2="665.00" y2="481.00" class="t"/>
<path d="M670.00,477.00 L674.91,471.81 L676.52,474.10 Z" class="f"/>
<path d="M691.00,462.00 L686.09,467.19 L684.48,464.90 Z" class="f"/>
<text transform="translate(726.30,497.70) scale(0.765,1)" font-size="11.88">A</text>
<text transform="translate(733.62,497.36) scale(0.856,1)" font-size="10.32">油</text>
<text transform="translate(744.82,497.36) scale(0.856,1)" font-size="10.32">口</text>
<line x1="724.80" y1="501.20" x2="752.40" y2="501.20" class="t"/>
<line x1="724.80" y1="501.20" x2="641.00" y2="520.00" class="t"/>
<path d="M645.00,519.00 L651.52,516.10 L652.14,518.83 Z" class="f"/>
<path d="M672.00,512.50 L665.48,515.40 L664.86,512.67 Z" class="f"/>
<line x1="646.30" y1="571.70" x2="676.00" y2="538.50" class="t"/>
<text transform="translate(604.75,585.60) scale(0.825,1)" font-size="11.30">F6K</text>
<text transform="translate(622.34,585.94) scale(0.848,1)" font-size="10.53">大</text>
<text transform="translate(634.62,585.94) scale(0.848,1)" font-size="10.53">油</text>
<text transform="translate(645.41,585.94) scale(0.848,1)" font-size="10.53">口</text>
<text transform="translate(656.52,585.94) scale(0.848,1)" font-size="10.53">面</text>
<text transform="translate(667.34,585.94) scale(0.848,1)" font-size="10.53">形</text>
<text transform="translate(678.61,585.94) scale(0.848,1)" font-size="10.53">式</text>
<text transform="translate(604.13,602.07) scale(0.827,1)" font-size="11.06">具</text>
<text transform="translate(615.40,602.07) scale(0.827,1)" font-size="11.06">体</text>
<text transform="translate(626.03,602.07) scale(0.827,1)" font-size="11.06">尺</text>
<text transform="translate(637.22,602.07) scale(0.827,1)" font-size="11.06">寸</text>
<text transform="translate(648.31,602.07) scale(0.827,1)" font-size="11.06">详</text>
<text transform="translate(658.34,602.07) scale(0.827,1)" font-size="11.06">见</text>
<text transform="translate(669.02,603.00) scale(0.845,1)" font-size="11.59">P95</text>
<text transform="translate(686.94,602.14) scale(0.737,1)" font-size="10.53">页</text>
<rect x="806.50" y="111.30" width="161.20" height="161.60" rx="15" class="m"/>
<line x1="887.10" y1="103.70" x2="887.10" y2="283.00" class="c"/>
<line x1="797.00" y1="191.80" x2="978.00" y2="191.80" class="c"/>
<circle cx="887.10" cy="191.80" r="72.20" class="m"/>
<circle cx="887.10" cy="191.80" r="65.00" class="m"/>
<circle cx="887.10" cy="191.80" r="56.50" class="k"/>
<circle cx="887.10" cy="191.80" r="36.00" class="m"/>
<circle cx="887.10" cy="191.80" r="22.80" class="m"/>
<circle cx="887.10" cy="191.80" r="9.40" class="m"/>
<circle cx="887.10" cy="191.80" r="5.50" class="t"/>
<circle cx="934.30" cy="191.80" r="5.40" class="k2"/>
<circle cx="934.30" cy="191.80" r="3.60" class="g"/>
<line x1="925.90" y1="191.80" x2="942.70" y2="191.80" class="m"/>
<line x1="934.30" y1="183.50" x2="934.30" y2="200.10" class="m"/>
<circle cx="910.70" cy="232.68" r="5.40" class="k2"/>
<circle cx="910.70" cy="232.68" r="3.60" class="g"/>
<line x1="902.30" y1="232.68" x2="919.10" y2="232.68" class="m"/>
<line x1="910.70" y1="224.38" x2="910.70" y2="240.98" class="m"/>
<circle cx="863.50" cy="232.68" r="5.40" class="k2"/>
<circle cx="863.50" cy="232.68" r="3.60" class="g"/>
<line x1="855.10" y1="232.68" x2="871.90" y2="232.68" class="m"/>
<line x1="863.50" y1="224.38" x2="863.50" y2="240.98" class="m"/>
<circle cx="839.90" cy="191.80" r="5.40" class="k2"/>
<circle cx="839.90" cy="191.80" r="3.60" class="g"/>
<line x1="831.50" y1="191.80" x2="848.30" y2="191.80" class="m"/>
<line x1="839.90" y1="183.50" x2="839.90" y2="200.10" class="m"/>
<circle cx="863.50" cy="150.92" r="5.40" class="k2"/>
<circle cx="863.50" cy="150.92" r="3.60" class="g"/>
<line x1="855.10" y1="150.92" x2="871.90" y2="150.92" class="m"/>
<line x1="863.50" y1="142.62" x2="863.50" y2="159.22" class="m"/>
<circle cx="910.70" cy="150.92" r="5.40" class="k2"/>
<circle cx="910.70" cy="150.92" r="3.60" class="g"/>
<line x1="902.30" y1="150.92" x2="919.10" y2="150.92" class="m"/>
<line x1="910.70" y1="142.62" x2="910.70" y2="159.22" class="m"/>
<rect x="910.70" y="185.50" width="2.60" height="12.00" rx="0" class="t"/>
<circle cx="823.20" cy="128.00" r="8.20" class="m"/>
<line x1="833.81" y1="138.60" x2="827.09" y2="131.89" class="t"/>
<line x1="824.76" y1="129.55" x2="821.64" y2="126.45" class="t"/>
<line x1="819.31" y1="124.11" x2="812.59" y2="117.40" class="t"/>
<line x1="812.60" y1="138.61" x2="819.31" y2="131.89" class="t"/>
<line x1="821.65" y1="129.56" x2="824.75" y2="126.44" class="t"/>
<line x1="827.09" y1="124.11" x2="833.80" y2="117.39" class="t"/>
<circle cx="951.30" cy="128.00" r="8.20" class="m"/>
<line x1="940.66" y1="138.57" x2="947.40" y2="131.88" class="t"/>
<line x1="949.74" y1="129.55" x2="952.86" y2="126.45" class="t"/>
<line x1="955.20" y1="124.12" x2="961.94" y2="117.43" class="t"/>
<line x1="940.73" y1="117.36" x2="947.42" y2="124.10" class="t"/>
<line x1="949.75" y1="126.44" x2="952.85" y2="129.56" class="t"/>
<line x1="955.18" y1="131.90" x2="961.87" y2="138.64" class="t"/>
<circle cx="823.00" cy="255.80" r="8.20" class="m"/>
<line x1="833.61" y1="245.20" x2="826.89" y2="251.91" class="t"/>
<line x1="824.56" y1="254.25" x2="821.44" y2="257.35" class="t"/>
<line x1="819.11" y1="259.69" x2="812.39" y2="266.40" class="t"/>
<line x1="833.60" y1="266.41" x2="826.89" y2="259.69" class="t"/>
<line x1="824.55" y1="257.36" x2="821.45" y2="254.24" class="t"/>
<line x1="819.11" y1="251.91" x2="812.40" y2="245.19" class="t"/>
<circle cx="951.40" cy="255.80" r="8.20" class="m"/>
<line x1="940.77" y1="245.22" x2="947.50" y2="251.92" class="t"/>
<line x1="949.84" y1="254.25" x2="952.96" y2="257.35" class="t"/>
<line x1="955.30" y1="259.68" x2="962.03" y2="266.38" class="t"/>
<line x1="961.98" y1="245.17" x2="955.28" y2="251.90" class="t"/>
<line x1="952.95" y1="254.24" x2="949.85" y2="257.36" class="t"/>
<line x1="947.52" y1="259.70" x2="940.82" y2="266.43" class="t"/>
<path d="M796.72,187.06 A90.5,90.5 0 0 1 823.11,127.81" class="da"/>
<path d="M977.48,196.54 A90.5,90.5 0 0 1 951.09,255.79" class="da"/>
<line x1="743.00" y1="160.40" x2="791.30" y2="160.40" class="t"/>
<line x1="791.30" y1="160.40" x2="975.00" y2="220.30" class="t"/>
<path d="M800.80,164.30 L808.88,165.29 L807.97,168.15 Z" class="f"/>
<path d="M973.40,219.20 L965.32,218.21 L966.23,215.35 Z" class="f"/>
<text transform="translate(753.58,157.90) scale(0.855,1)" font-size="12.17">ϕ200</text>
<text transform="translate(741.93,170.86) scale(0.851,1)" font-size="7.87">安</text>
<text transform="translate(750.10,170.86) scale(0.851,1)" font-size="7.87">装</text>
<text transform="translate(758.33,170.86) scale(0.851,1)" font-size="7.87">孔</text>
<text transform="translate(766.37,170.86) scale(0.851,1)" font-size="7.87">分</text>
<text transform="translate(774.53,170.86) scale(0.851,1)" font-size="7.87">布</text>
<text transform="translate(782.16,170.86) scale(0.851,1)" font-size="7.87">圆</text>
<text transform="translate(874.75,67.70) scale(0.675,1)" font-size="13.91">F</text>
<text transform="translate(883.01,67.78) scale(0.709,1)" font-size="13.51">法</text>
<text transform="translate(896.11,67.78) scale(0.709,1)" font-size="13.51">兰</text>
<line x1="863.80" y1="73.30" x2="912.90" y2="73.30" class="m"/>
<text transform="translate(863.84,88.32) scale(0.685,1)" font-size="13.19">大</text>
<text transform="translate(877.73,88.32) scale(0.685,1)" font-size="13.19">方</text>
<text transform="translate(891.22,88.32) scale(0.685,1)" font-size="13.19">法</text>
<text transform="translate(904.62,88.32) scale(0.685,1)" font-size="13.19">兰</text>
<text transform="translate(749.16,275.80) scale(1.091,1)" font-size="10.87">4-ϕ18</text>
<line x1="740.70" y1="280.00" x2="786.50" y2="280.00" class="t"/>
<line x1="786.50" y1="280.00" x2="836.80" y2="247.50" class="t"/>
<path d="M809.10,265.80 L814.18,260.75 L815.80,263.28 Z" class="f"/>
<path d="M831.00,251.30 L825.92,256.35 L824.30,253.82 Z" class="f"/>
<text transform="translate(748.45,293.40) scale(0.883,1)" font-size="10.00">安</text>
<text transform="translate(759.44,293.40) scale(0.883,1)" font-size="10.00">装</text>
<text transform="translate(770.51,293.40) scale(0.883,1)" font-size="10.00">孔</text>
<line x1="806.60" y1="275.00" x2="806.60" y2="315.00" class="t"/>
<line x1="967.70" y1="275.00" x2="967.70" y2="315.00" class="t"/>
<line x1="806.60" y1="311.40" x2="967.70" y2="311.40" class="t"/>
<path d="M806.60,311.40 L813.10,309.90 L813.10,312.90 Z" class="f"/>
<path d="M967.70,311.40 L961.20,312.90 L961.20,309.90 Z" class="f"/>
<rect x="860.80" y="295.50" width="8.00" height="8.00" rx="0" class="t"/>
<text transform="translate(869.71,303.50) scale(0.856,1)" font-size="11.59">178X178</text>
<rect x="157.20" y="379.60" width="80.60" height="75.90" rx="0" class="ds"/>
<line x1="142.90" y1="415.00" x2="182.40" y2="415.00" class="m"/>
<line x1="211.60" y1="415.00" x2="256.20" y2="415.00" class="m"/>
<circle cx="197.00" cy="415.00" r="14.60" class="m"/>
<path d="M182.4,409.8 L188.6,415 L182.4,420.2 Z" class="f"/>
<path d="M211.6,409.8 L205.4,415 L211.6,420.2 Z" class="f"/>
<path d="M168.3,415 L168.3,391.4 L226.5,391.4 L226.5,415" class="t"/>
<circle cx="168.30" cy="415.00" r="2.00" class="f"/>
<circle cx="226.50" cy="415.00" r="2.00" class="f"/>
<circle cx="197.00" cy="391.40" r="2.00" class="f"/>
<path d="M175.6,391.4 L179.6,387.6 L183.6,391.4 L179.6,395.2 Z" class="wf"/>
<path d="M210.7,391.4 L214.7,387.6 L218.7,391.4 L214.7,395.2 Z" class="wf"/>
<line x1="197.00" y1="391.40" x2="197.00" y2="360.00" class="t"/>
<line x1="193.80" y1="355.20" x2="199.80" y2="361.40" class="m"/>
<line x1="199.80" y1="355.20" x2="193.80" y2="361.40" class="m"/>
<text transform="translate(201.11,360.00) scale(0.751,1)" font-size="12.61">T</text>
<text transform="translate(137.20,410.20) scale(0.787,1)" font-size="12.32">A</text>
<text transform="translate(249.41,410.20) scale(0.904,1)" font-size="12.32">B</text>
<line x1="195.00" y1="429.60" x2="195.00" y2="483.70" class="t"/>
<line x1="199.00" y1="429.60" x2="199.00" y2="483.70" class="t"/>
<path d="M181,476 Q197,460 213,476" class="t"/>
<path d="M178.80,479.00 L181.40,472.20 L184.60,474.60 Z" class="f"/>
<path d="M215.20,479.00 L209.40,474.60 L212.60,472.20 Z" class="f"/>
<rect x="789.40" y="377.40" width="187.90" height="206.80" rx="0" class="tb"/>
<line x1="863.80" y1="377.40" x2="863.80" y2="584.20" class="tb"/>
<line x1="903.40" y1="377.40" x2="903.40" y2="584.20" class="tb"/>
<line x1="939.60" y1="377.40" x2="939.60" y2="584.20" class="tb"/>
<line x1="789.40" y1="413.30" x2="977.30" y2="413.30" class="tb"/>
<line x1="789.40" y1="434.66" x2="977.30" y2="434.66" class="tb"/>
<line x1="789.40" y1="456.03" x2="977.30" y2="456.03" class="tb"/>
<line x1="789.40" y1="477.39" x2="977.30" y2="477.39" class="tb"/>
<line x1="789.40" y1="498.75" x2="977.30" y2="498.75" class="tb"/>
<line x1="789.40" y1="520.11" x2="977.30" y2="520.11" class="tb"/>
<line x1="789.40" y1="541.48" x2="977.30" y2="541.48" class="tb"/>
<line x1="789.40" y1="562.84" x2="977.30" y2="562.84" class="tb"/>
<line x1="789.40" y1="377.40" x2="863.80" y2="413.30" class="t"/>
<text transform="translate(834.91,392.29) scale(0.730,1)" font-size="13.40">尺</text>
<text transform="translate(848.30,392.29) scale(0.730,1)" font-size="13.40">寸</text>
<text transform="translate(793.11,410.41) scale(0.652,1)" font-size="14.04">排</text>
<text transform="translate(806.82,410.41) scale(0.652,1)" font-size="14.04">量</text>
<text transform="translate(821.58,410.80) scale(0.839,1)" font-size="15.37">cc/r</text>
<text transform="translate(873.71,399.90) scale(0.861,1)" font-size="12.90">H1</text>
<text transform="translate(918.99,399.90) scale(0.983,1)" font-size="12.90">H</text>
<text transform="translate(952.86,400.70) scale(0.982,1)" font-size="13.19">L</text>
<text transform="translate(805.41,429.80) scale(0.906,1)" font-size="13.62">F6K-195</text>
<text transform="translate(870.20,429.80) scale(0.885,1)" font-size="13.62">21.7</text>
<text transform="translate(911.40,429.80) scale(0.878,1)" font-size="13.62">232</text>
<text transform="translate(946.92,429.80) scale(0.900,1)" font-size="13.62">136</text>
<text transform="translate(805.41,451.16) scale(0.906,1)" font-size="13.62">F6K-245</text>
<text transform="translate(870.20,451.16) scale(0.885,1)" font-size="13.62">27.3</text>
<text transform="translate(911.40,451.16) scale(0.878,1)" font-size="13.62">237</text>
<text transform="translate(946.92,451.16) scale(0.900,1)" font-size="13.62">141</text>
<text transform="translate(805.41,472.53) scale(0.904,1)" font-size="13.62">F6K-310</text>
<text transform="translate(870.32,472.53) scale(0.880,1)" font-size="13.62">34.5</text>
<text transform="translate(911.40,472.53) scale(0.878,1)" font-size="13.62">245</text>
<text transform="translate(946.92,472.53) scale(0.900,1)" font-size="13.62">149</text>
<text transform="translate(805.41,493.89) scale(0.904,1)" font-size="13.62">F6K-390</text>
<text transform="translate(870.56,493.89) scale(0.871,1)" font-size="13.62">43.5</text>
<text transform="translate(911.41,493.89) scale(0.867,1)" font-size="13.62">254</text>
<text transform="translate(946.92,493.89) scale(0.900,1)" font-size="13.62">158</text>
<text transform="translate(805.41,515.25) scale(0.904,1)" font-size="13.62">F6K-490</text>
<text transform="translate(870.32,515.25) scale(0.880,1)" font-size="13.62">54.5</text>
<text transform="translate(911.40,515.25) scale(0.878,1)" font-size="13.62">265</text>
<text transform="translate(946.92,515.25) scale(0.900,1)" font-size="13.62">169</text>
<text transform="translate(805.41,536.61) scale(0.906,1)" font-size="13.62">F6K-625</text>
<text transform="translate(870.25,536.61) scale(0.812,1)" font-size="13.62">69</text>
<text transform="translate(911.40,536.61) scale(0.878,1)" font-size="13.62">279</text>
<text transform="translate(946.92,536.61) scale(0.900,1)" font-size="13.62">183</text>
<text transform="translate(805.41,557.98) scale(0.904,1)" font-size="13.62">F6K-800</text>
<text transform="translate(870.36,557.98) scale(0.804,1)" font-size="13.62">89</text>
<text transform="translate(911.40,557.98) scale(0.878,1)" font-size="13.62">299</text>
<text transform="translate(947.30,557.98) scale(0.882,1)" font-size="13.62">203</text>
<text transform="translate(805.41,579.34) scale(0.906,1)" font-size="13.62">F6K-985</text>
<text transform="translate(869.89,579.34) scale(0.833,1)" font-size="13.62">109</text>
<text transform="translate(911.52,579.34) scale(0.872,1)" font-size="13.62">319</text>
<text transform="translate(947.30,579.34) scale(0.882,1)" font-size="13.62">223</text>
<text transform="translate(96.00,550.25) scale(0.628,1)" font-size="15.43" class="bt">输</text>
<text transform="translate(110.02,550.25) scale(0.628,1)" font-size="15.43" class="bt">出</text>
<text transform="translate(125.70,550.25) scale(0.628,1)" font-size="15.43" class="bt">轴</text>
<text transform="translate(139.52,550.25) scale(0.628,1)" font-size="15.43" class="bt">的</text>
<text transform="translate(155.40,550.25) scale(0.628,1)" font-size="15.43" class="bt">旋</text>
<text transform="translate(169.80,550.25) scale(0.628,1)" font-size="15.43" class="bt">转</text>
<text transform="translate(184.81,550.25) scale(0.628,1)" font-size="15.43" class="bt">方</text>
<text transform="translate(198.92,550.25) scale(0.628,1)" font-size="15.43" class="bt">向</text>
<text transform="translate(208.67,549.75) scale(0.800,1)" font-size="15.43" class="bt">：</text>
<text transform="translate(224.98,549.75) scale(0.800,1)" font-size="15.43" class="bt">（</text>
<text transform="translate(243.20,550.25) scale(0.628,1)" font-size="15.43" class="bt">标</text>
<text transform="translate(258.71,550.25) scale(0.628,1)" font-size="15.43" class="bt">准</text>
<text transform="translate(273.95,549.75) scale(0.800,1)" font-size="15.43" class="bt">）</text>
<text transform="translate(96.71,582.51) scale(0.650,1)" font-size="14.89" class="bt">面</text>
<text transform="translate(111.20,582.51) scale(0.650,1)" font-size="14.89" class="bt">对</text>
<text transform="translate(126.40,582.51) scale(0.650,1)" font-size="14.89" class="bt">输</text>
<text transform="translate(140.42,582.51) scale(0.650,1)" font-size="14.89" class="bt">出</text>
<text transform="translate(156.10,582.51) scale(0.650,1)" font-size="14.89" class="bt">轴</text>
<text transform="translate(165.34,582.51) scale(0.800,1)" font-size="14.89" class="bt">，</text>
<text transform="translate(184.93,582.51) scale(0.650,1)" font-size="14.89" class="bt">当</text>
<text transform="translate(197.30,584.00) scale(0.867,1)" font-size="16.09" class="bl">A</text>
<text transform="translate(207.81,582.51) scale(0.650,1)" font-size="14.89" class="bt">油</text>
<text transform="translate(222.23,582.51) scale(0.650,1)" font-size="14.89" class="bt">口</text>
<text transform="translate(238.21,582.51) scale(0.650,1)" font-size="14.89" class="bt">进</text>
<text transform="translate(253.51,582.51) scale(0.650,1)" font-size="14.89" class="bt">油</text>
<text transform="translate(260.94,582.51) scale(0.800,1)" font-size="14.89" class="bt">，</text>
<text transform="translate(278.79,584.00) scale(0.938,1)" font-size="16.09" class="bl">B</text>
<text transform="translate(291.21,582.51) scale(0.650,1)" font-size="14.89" class="bt">油</text>
<text transform="translate(305.23,582.51) scale(0.650,1)" font-size="14.89" class="bt">口</text>
<text transform="translate(320.23,582.51) scale(0.650,1)" font-size="14.89" class="bt">回</text>
<text transform="translate(335.71,582.51) scale(0.650,1)" font-size="14.89" class="bt">油</text>
<text transform="translate(348.92,582.51) scale(0.650,1)" font-size="14.89" class="bt">时</text>
<text transform="translate(364.11,582.51) scale(0.650,1)" font-size="14.89" class="bt">马</text>
<text transform="translate(379.11,582.51) scale(0.650,1)" font-size="14.89" class="bt">达</text>
<text transform="translate(393.91,582.51) scale(0.650,1)" font-size="14.89" class="bt">顺</text>
<text transform="translate(409.42,582.51) scale(0.650,1)" font-size="14.89" class="bt">时</text>
<text transform="translate(425.00,582.51) scale(0.650,1)" font-size="14.89" class="bt">针</text>
<text transform="translate(438.60,582.51) scale(0.650,1)" font-size="14.89" class="bt">旋</text>
<text transform="translate(453.40,582.51) scale(0.650,1)" font-size="14.89" class="bt">转</text>
<text transform="translate(463.04,582.51) scale(0.800,1)" font-size="14.89" class="bt">，</text>
<text transform="translate(96.61,612.21) scale(0.650,1)" font-size="14.89" class="bt">反</text>
<text transform="translate(111.11,612.21) scale(0.650,1)" font-size="14.89" class="bt">之</text>
<text transform="translate(121.94,612.21) scale(0.800,1)" font-size="14.89" class="bt">，</text>
<text transform="translate(140.83,612.21) scale(0.650,1)" font-size="14.89" class="bt">当</text>
<text transform="translate(151.99,613.70) scale(0.938,1)" font-size="16.09" class="bl">B</text>
<text transform="translate(163.61,612.21) scale(0.650,1)" font-size="14.89" class="bt">油</text>
<text transform="translate(178.13,612.21) scale(0.650,1)" font-size="14.89" class="bt">口</text>
<text transform="translate(194.11,612.21) scale(0.650,1)" font-size="14.89" class="bt">进</text>
<text transform="translate(208.51,612.21) scale(0.650,1)" font-size="14.89" class="bt">油</text>
<text transform="translate(217.84,612.21) scale(0.800,1)" font-size="14.89" class="bt">，</text>
<text transform="translate(235.40,613.70) scale(0.867,1)" font-size="16.09" class="bl">A</text>
<text transform="translate(246.71,612.21) scale(0.650,1)" font-size="14.89" class="bt">油</text>
<text transform="translate(260.73,612.21) scale(0.650,1)" font-size="14.89" class="bt">口</text>
<text transform="translate(275.63,612.21) scale(0.650,1)" font-size="14.89" class="bt">回</text>
<text transform="translate(291.21,612.21) scale(0.650,1)" font-size="14.89" class="bt">油</text>
<text transform="translate(305.52,612.21) scale(0.650,1)" font-size="14.89" class="bt">时</text>
<text transform="translate(319.51,612.21) scale(0.650,1)" font-size="14.89" class="bt">马</text>
<text transform="translate(333.41,612.21) scale(0.650,1)" font-size="14.89" class="bt">达</text>
<text transform="translate(352.71,612.21) scale(0.650,1)" font-size="14.89" class="bt">逆</text>
<text transform="translate(367.22,612.21) scale(0.650,1)" font-size="14.89" class="bt">时</text>
<text transform="translate(382.70,612.21) scale(0.650,1)" font-size="14.89" class="bt">针</text>
<text transform="translate(397.50,612.21) scale(0.650,1)" font-size="14.89" class="bt">旋</text>
<text transform="translate(412.30,612.21) scale(0.650,1)" font-size="14.89" class="bt">转</text>
<text transform="translate(425.03,611.21) scale(0.800,1)" font-size="13.40" class="bt">。</text>
</svg></body></html>
